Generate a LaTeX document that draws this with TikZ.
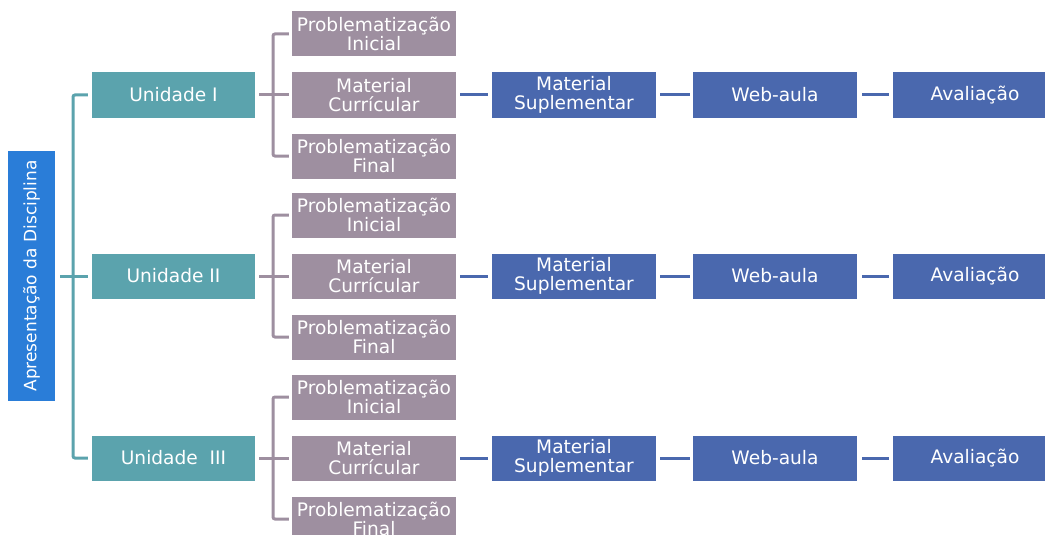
\documentclass[tikz,border=0pt]{standalone}
\usepackage{fontspec}
\setmainfont{DejaVu Sans}
\definecolor{cteal}{RGB}{91,163,173}
\definecolor{cpurp}{RGB}{158,143,160}
\definecolor{cblue}{RGB}{74,104,174}
\definecolor{croot}{RGB}{42,125,216}
\begin{document}
\begin{tikzpicture}[x=1pt,y=-1pt,
  box/.style={minimum height=45pt, inner sep=0pt, text=white, align=center,
    font=\fontsize{18.6}{19.5}\selectfont},
  unitbox/.style={box, fill=cteal, minimum width=163pt},
  purpbox/.style={box, fill=cpurp, minimum width=164pt},
  bluebox/.style={box, fill=cblue, minimum width=164pt},
  rootbox/.style={fill=croot, inner sep=0pt, minimum width=47pt, minimum height=250pt,
    text=white, font=\fontsize{17}{19}\selectfont},
  tline/.style={draw=cteal, line width=3pt},
  pline/.style={draw=cpurp, line width=3pt},
  bline/.style={draw=cblue, line width=3pt}]
\clip (0,0) rectangle (1045,535);
\fill[white] (0,0) rectangle (1045,535);
\node[rootbox] (root) at (31.5,276) {\rotatebox{90}{Apresentação da Disciplina}};
\foreach \r/\y/\name in {1/95/{Unidade I},2/276/{Unidade II},3/458/{Unidade\ \ III}}{
  \node[unitbox] (u\r) at (173.5,\y) {\name};
  \node[purpbox] (pi\r) at (374,\y-61) {Problematização\\Inicial};
  \node[purpbox] (mc\r) at (374,\y) {Material\\Currícular};
  \node[purpbox] (pf\r) at (374,\y+61) {Problematização\\Final};
  \node[bluebox] (ms\r) at (574,\y) {Material\\Suplementar};
  \node[bluebox] (wa\r) at (775,\y) {Web-aula};
  \node[bluebox] (av\r) at (975,\y) {Avaliação};
  \coordinate (pb\r) at (273,\y);
  \draw[pline, shorten <=4pt, shorten >=3pt] (u\r.east) -- (mc\r.west);
  \draw[pline, rounded corners=2pt, shorten <=3pt, shorten >=3pt]
    (pi\r.west) -| (pb\r) |- (pf\r.west);
  \draw[bline, shorten <=4pt, shorten >=4pt] (mc\r.east) -- (ms\r.west);
  \draw[bline, shorten <=4pt, shorten >=3pt] (ms\r.east) -- (wa\r.west);
  \draw[bline, shorten <=5pt, shorten >=4pt] (wa\r.east) -- (av\r.west);
}
\coordinate (ts1) at (73,95);
\coordinate (ts3) at (73,458);
\draw[tline, rounded corners=2pt, shorten <=4pt, shorten >=4pt]
  (u1.west) -- (ts1) -- (ts3) -- (u3.west);
\draw[tline, shorten <=5pt, shorten >=4pt] (root.east) -- (u2.west);
\end{tikzpicture}
\end{document}
